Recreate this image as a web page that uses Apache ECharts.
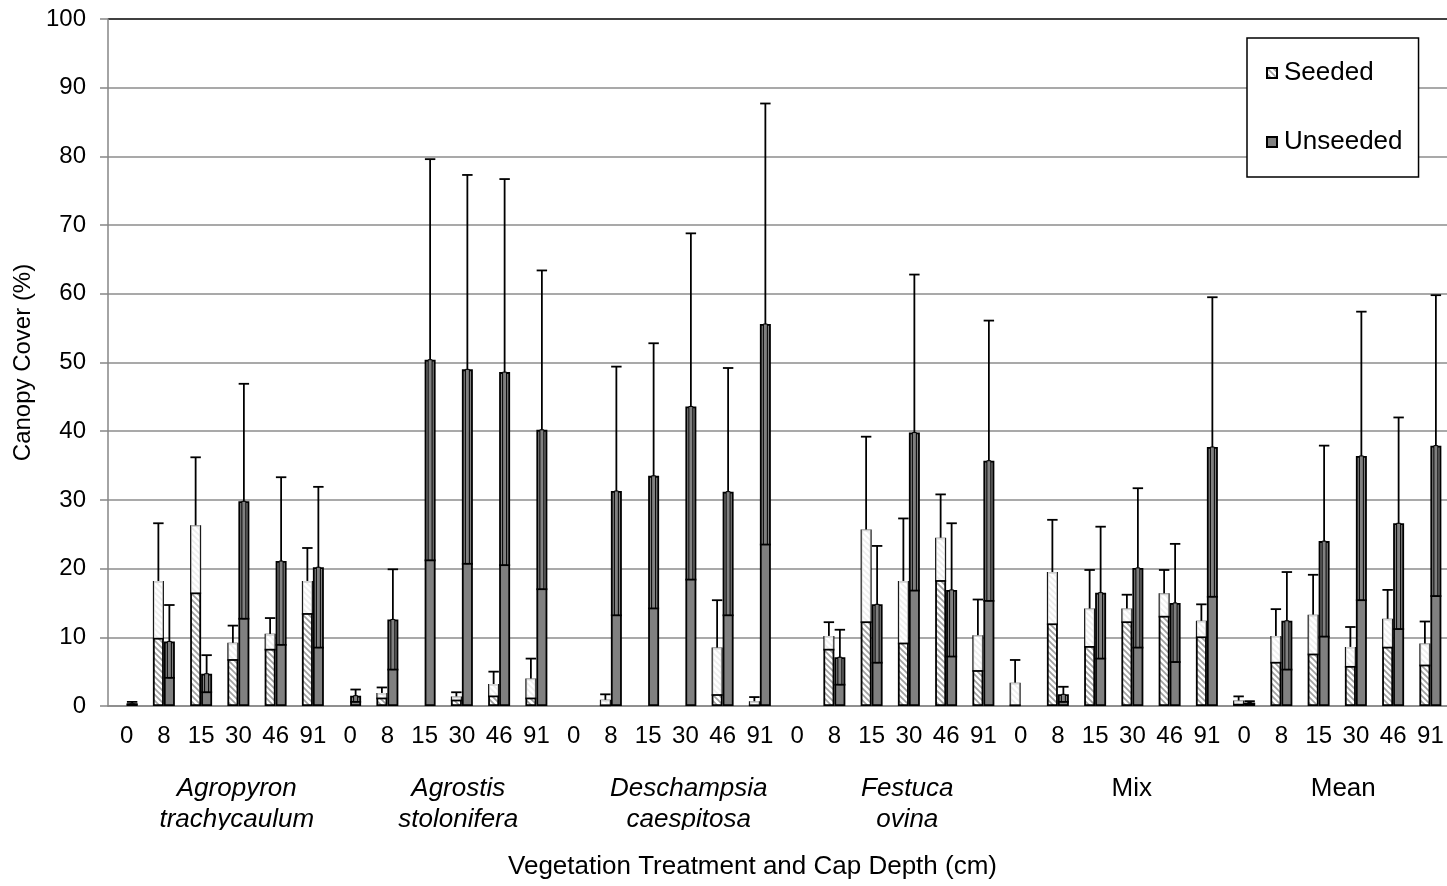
<!DOCTYPE html>
<html>
<head>
<meta charset="utf-8">
<title>Canopy Cover by Vegetation Treatment and Cap Depth</title>
<script src="https://cdn.jsdelivr.net/npm/echarts@6.0.0/dist/echarts.min.js"></script>
<style>
  html, body { margin: 0; padding: 0; background: #fff; }
  #chart { width: 1447px; height: 886px; }
</style>
</head>
<body>
<div id="chart"></div>
<script>
// Cap depths (cm) repeated for each vegetation treatment
const depths = ['0', '8', '15', '30', '46', '91'];
const treatments = ['Agropyron\ntrachycaulum', 'Agrostis\nstolonifera', 'Deschampsia\ncaespitosa', 'Festuca\novina', 'Mix', 'Mean'];
const yTicks = [0, 100, 10];

// Mean canopy cover (%) and error (±), six depths per treatment
const seededMean = [
  0, 18.2, 26.3, 9.2, 10.5, 18.2,
  0, 1.9, 0, 1.4, 3.2, 4.0,
  0, 0.9, 0, 0, 8.5, 0.7,
  0, 10.2, 25.7, 18.2, 24.5, 10.3,
  3.4, 19.5, 14.2, 14.2, 16.4, 12.4,
  0.8, 10.2, 13.3, 8.6, 12.7, 9.1
];
const seededErr = [
  0, 8.4, 9.9, 2.5, 2.3, 4.8,
  0, 0.8, 0, 0.6, 1.8, 2.9,
  0, 0.8, 0, 0, 6.9, 0.6,
  0, 2.0, 13.5, 9.1, 6.3, 5.2,
  3.3, 7.6, 5.6, 2.0, 3.4, 2.4,
  0.6, 3.9, 5.8, 2.9, 4.2, 3.2
];
const unseededMean = [
  0.4, 9.4, 4.7, 29.8, 21.1, 20.2,
  1.5, 12.6, 50.4, 49.0, 48.6, 40.2,
  0, 31.3, 33.5, 43.6, 31.2, 55.6,
  0, 7.1, 14.8, 39.8, 16.9, 35.7,
  0, 1.7, 16.5, 20.1, 15.0, 37.7,
  0.5, 12.4, 24.0, 36.4, 26.6, 37.9
];
const unseededErr = [
  0.2, 5.3, 2.7, 17.1, 12.2, 11.7,
  0.9, 7.3, 29.2, 28.3, 28.1, 23.2,
  0, 18.1, 19.3, 25.2, 18.0, 32.1,
  0, 4.0, 8.5, 23.0, 9.7, 20.4,
  0, 1.1, 9.6, 11.6, 8.6, 21.8,
  0.2, 7.1, 13.9, 21.0, 15.4, 21.9
];

const FONT = '"Liberation Sans", Arial, Helvetica, sans-serif';
const BAR_RATIO = 0.295;
const GRAY = '#808080';

// Category labels: each treatment contributes the six depths
const categories = [];
treatments.forEach(function () { depths.forEach(function (d) { categories.push(d); }); });

// Diagonal hatch fill for seeded bars
function makeHatch() {
  const s = 6;
  const c = document.createElement('canvas');
  c.width = s; c.height = s;
  const g = c.getContext('2d');
  g.fillStyle = '#ffffff';
  g.fillRect(0, 0, s, s);
  g.strokeStyle = '#a0a0a0';
  g.lineWidth = 1.7;
  g.beginPath();
  g.moveTo(-1, -1); g.lineTo(s + 1, s + 1);
  g.moveTo(-1, s - 1); g.lineTo(1, s + 1);
  g.moveTo(s - 1, -1); g.lineTo(s + 1, 1);
  g.stroke();
  return c;
}
const hatch = { image: makeHatch(), repeat: 'repeat' };

// Zero means are left empty so no flat outline is drawn on the axis
function barData(means) {
  return means.map(function (m) { return m === 0 ? '-' : m; });
}

function errData(means, errs) {
  const out = [];
  means.forEach(function (m, i) {
    if (errs[i] > 0) out.push([i, m, errs[i]]);
  });
  return out;
}

// Error bar: whisker above the bar top, inner band + cap for the lower half
function errorRenderer(side, seeded) {
  return function (params, api) {
    const idx = api.value(0), mean = api.value(1), err = api.value(2);
    const band = api.size([1, 0])[0];
    const bw = band * BAR_RATIO;
    const cx = api.coord([idx, 0])[0] + side * bw / 2;
    const yMean = api.coord([idx, mean])[1];
    const yHi = api.coord([idx, mean + err])[1];
    const yLo = api.coord([idx, Math.max(mean - err, 0)])[1];
    const capW = bw * 0.95;
    const stroke = { stroke: '#000', lineWidth: 1.8 };
    const children = [];
    if (seeded) {
      children.push({
        type: 'rect',
        shape: { x: cx - bw / 2 + 1, y: yMean, width: bw - 2, height: Math.max(yLo - yMean, 0) },
        style: { fill: 'rgba(255,255,255,0.82)' }
      });
    } else {
      children.push({
        type: 'rect',
        shape: { x: cx - 2, y: yMean, width: 4, height: Math.max(yLo - yMean, 0) },
        style: { fill: GRAY, stroke: '#000', lineWidth: 1 }
      });
    }
    children.push({ type: 'line', shape: { x1: cx, y1: yMean, x2: cx, y2: yHi }, style: stroke });
    children.push({ type: 'line', shape: { x1: cx - capW / 2, y1: yHi, x2: cx + capW / 2, y2: yHi }, style: stroke });
    children.push({ type: 'line', shape: { x1: cx - bw / 2, y1: yLo, x2: cx + bw / 2, y2: yLo }, style: stroke });
    return { type: 'group', children: children };
  };
}

// Group label styles: italic binomials, upright Mix/Mean, nudged right
const groupShift = [17, 15, 22, 17, 18, 6];
const rich = {};
treatments.forEach(function (t, i) {
  rich['g' + i] = {
    fontFamily: FONT,
    fontSize: 26,
    fontStyle: i < 4 ? 'italic' : 'normal',
    color: '#000',
    lineHeight: 31,
    padding: [0, 0, 0, groupShift[i] * 2]
  };
});

const gridLineColors = [];
for (let v = yTicks[0]; v <= yTicks[1]; v += yTicks[2]) {
  gridLineColors.push(v === yTicks[1] ? '#000000' : '#8c8c8c');
}

const chart = echarts.init(document.getElementById('chart'), null, { renderer: 'canvas' });
chart.setOption({
  animation: false,
  backgroundColor: '#ffffff',
  textStyle: { fontFamily: FONT },
  grid: { left: 108, top: 19, width: 1341, height: 687, containLabel: false, outerBoundsMode: 'none' },
  legend: {
    data: ['Seeded', 'Unseeded'],
    orient: 'vertical',
    left: 1247,
    top: 38,
    padding: [22, 16, 22, 19],
    itemGap: 43,
    itemWidth: 10,
    itemHeight: 10,
    icon: 'rect',
    borderColor: '#000',
    borderWidth: 1.5,
    backgroundColor: '#fff',
    textStyle: { fontFamily: FONT, fontSize: 26, color: '#000', padding: [0, 0, 0, 2] }
  },
  xAxis: [
    {
      type: 'category',
      data: categories,
      position: 'bottom',
      axisLine: { lineStyle: { color: '#868686', width: 1.5 } },
      axisTick: { show: false },
      axisLabel: { interval: 0, fontFamily: FONT, fontSize: 24, color: '#000', margin: 18 },
      name: 'Vegetation Treatment and Cap Depth (cm)',
      nameLocation: 'middle',
      nameGap: 148,
      nameTextStyle: { fontFamily: FONT, fontSize: 26, color: '#000', padding: [0, 52, 0, 0] }
    },
    {
      type: 'category',
      data: treatments,
      position: 'bottom',
      axisLine: { show: false },
      axisTick: { show: false },
      splitLine: { show: false },
      axisLabel: {
        interval: 0,
        margin: 67,
        formatter: function (value, index) {
          return value.split('\n').map(function (line) { return '{g' + index + '|' + line + '}'; }).join('\n');
        },
        rich: rich
      }
    }
  ],
  yAxis: {
    type: 'value',
    min: yTicks[0],
    max: yTicks[1],
    interval: yTicks[2],
    axisLine: { show: true, lineStyle: { color: '#868686', width: 1.5 } },
    axisTick: { show: true, length: 8, lineStyle: { color: '#868686', width: 1.5 } },
    axisLabel: { fontFamily: FONT, fontSize: 24, color: '#000', margin: 22 },
    splitLine: { show: true, lineStyle: { color: gridLineColors, width: 1.5 } },
    name: 'Canopy Cover (%)',
    nameLocation: 'middle',
    nameRotate: 90,
    nameGap: 66,
    nameTextStyle: { fontFamily: FONT, fontSize: 24, color: '#000' }
  },
  series: [
    {
      name: 'Seeded',
      type: 'bar',
      data: barData(seededMean),
      barWidth: (BAR_RATIO * 100) + '%',
      barGap: '0%',
      itemStyle: { color: hatch, borderColor: '#000', borderWidth: 1.8 },
      emphasis: { disabled: true }
    },
    {
      name: 'Unseeded',
      type: 'bar',
      data: barData(unseededMean),
      barWidth: (BAR_RATIO * 100) + '%',
      barGap: '0%',
      itemStyle: { color: GRAY, borderColor: '#000', borderWidth: 1.8 },
      emphasis: { disabled: true }
    },
    {
      name: 'Seeded error',
      type: 'custom',
      renderItem: errorRenderer(-1, true),
      data: errData(seededMean, seededErr),
      encode: { x: 0, y: 1 },
      z: 5,
      silent: true
    },
    {
      name: 'Unseeded error',
      type: 'custom',
      renderItem: errorRenderer(1, false),
      data: errData(unseededMean, unseededErr),
      encode: { x: 0, y: 1 },
      z: 5,
      silent: true
    }
  ],
  graphic: [
    {
      // the label band ends here; descenders on the second line are cut off
      type: 'rect',
      z: 100,
      shape: { x: 100, y: 830, width: 1347, height: 18 },
      style: { fill: '#ffffff' }
    }
  ]
});
</script>
</body>
</html>
